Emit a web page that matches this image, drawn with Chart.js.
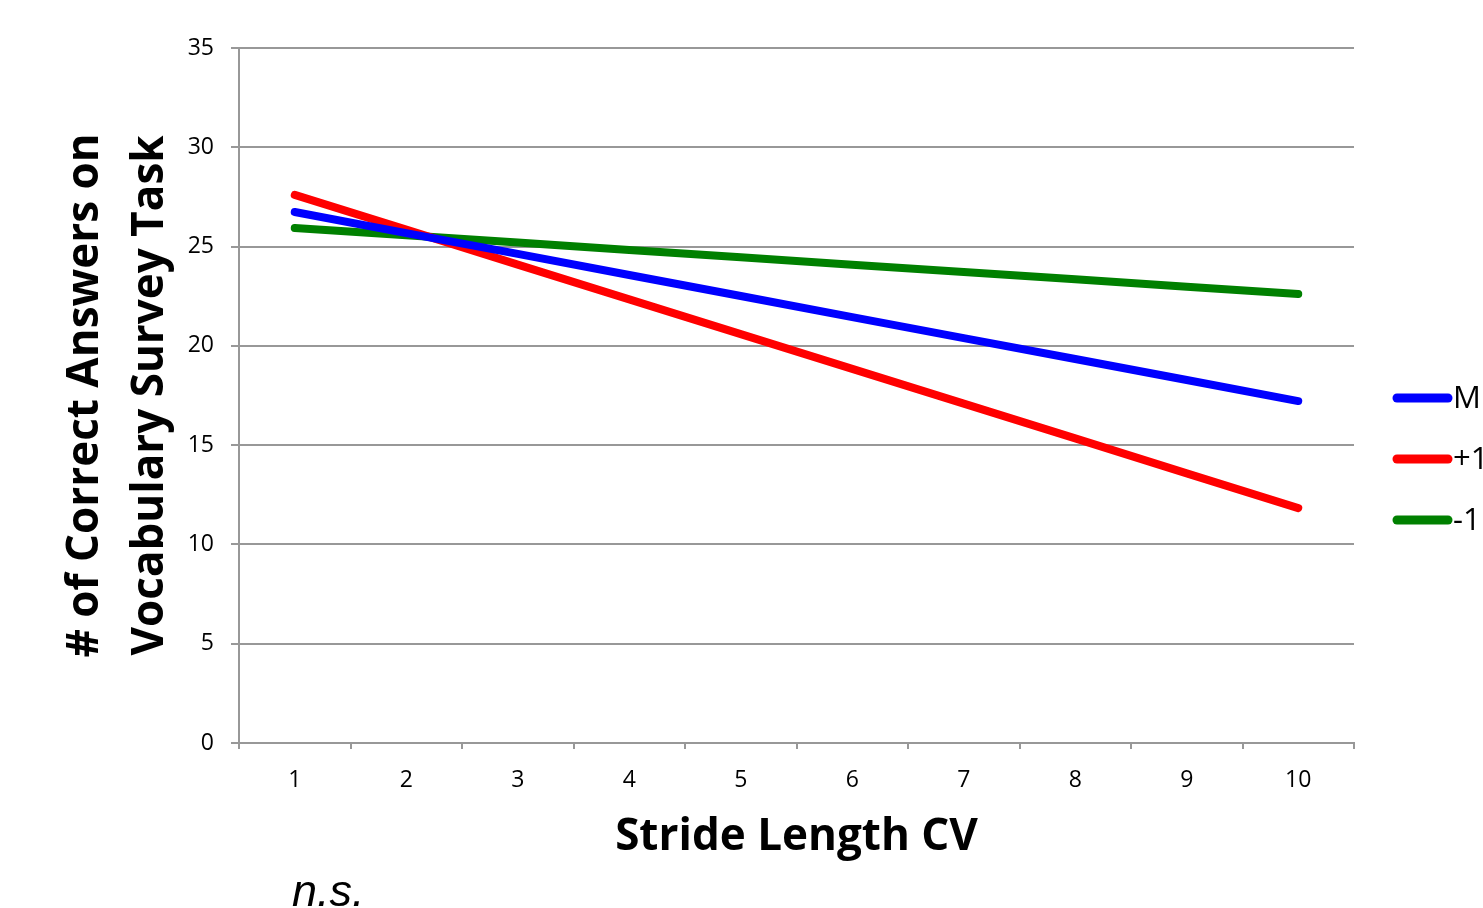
<!DOCTYPE html>
<html>
<head>
<meta charset="utf-8">
<script src="https://cdn.jsdelivr.net/npm/chart.js@4/dist/chart.umd.min.js"></script>
<style>
  html, body { margin: 0; padding: 0; background: #fff; overflow: hidden; }
</style>
</head>
<body>
<canvas id="strideChart" width="1483" height="908"></canvas>
<script>
// values
const strideLabels = ['1', '2', '3', '4', '5', '6', '7', '8', '9', '10'];
const seriesNames = ['M', '+1', '-1'];
const meanValues = [26.74, 25.68, 24.63, 23.57, 22.51, 21.45, 20.39, 19.34, 18.28, 17.22];
const plusOneValues = [27.6, 25.85, 24.09, 22.34, 20.59, 18.84, 17.09, 15.34, 13.58, 11.83];
const minusOneValues = [25.94, 25.57, 25.2, 24.83, 24.46, 24.09, 23.72, 23.35, 22.98, 22.61];
const seriesColors = ['#0000ff', '#ff0000', '#008000'];

const gridGray = '#989898';

// legend is cut by the window edge in the original, so draw it by hand
const sideLegend = {
    id: 'sideLegend',
    afterDraw(chart) {
        const ctx = chart.ctx;
        const x0 = chart.chartArea.right + 43;
        ctx.save();
        chart.data.datasets.forEach((ds, i) => {
            const y = 398 + i * 61;
            ctx.strokeStyle = ds.borderColor;
            ctx.lineWidth = 9;
            ctx.lineCap = 'round';
            ctx.beginPath();
            ctx.moveTo(x0, y);
            ctx.lineTo(x0 + 51, y);
            ctx.stroke();
            ctx.fillStyle = '#000';
            ctx.font = '31px "Open Sans"';
            ctx.textBaseline = 'middle';
            ctx.fillText(ds.label, x0 + 56, y + 1);
        });
        // significance note under the x title
        ctx.font = 'italic 45px "Liberation Sans"';
        ctx.textBaseline = 'alphabetic';
        ctx.fillText('n.s.', 292, 906);
        ctx.restore();
    }
};

const ctx = document.getElementById('strideChart').getContext('2d');

new Chart(ctx, {
    type: 'line',
    data: {
        labels: strideLabels,
        datasets: [
            {
                label: seriesNames[0],
                data: meanValues,
                borderColor: seriesColors[0],
                backgroundColor: seriesColors[0]
            },
            {
                label: seriesNames[1],
                data: plusOneValues,
                borderColor: seriesColors[1],
                backgroundColor: seriesColors[1]
            },
            {
                label: seriesNames[2],
                data: minusOneValues,
                borderColor: seriesColors[2],
                backgroundColor: seriesColors[2]
            }
        ]
    },
    options: {
        responsive: false,
        animation: false,
        layout: {
            padding: { top: 48, bottom: 44.6, left: 52.5, right: 129 }
        },
        elements: {
            line: { borderWidth: 8, borderCapStyle: 'round', tension: 0 },
            point: { radius: 0, hoverRadius: 0 }
        },
        plugins: {
            legend: { display: false },
            tooltip: { enabled: false }
        },
        scales: {
            x: {
                offset: true,
                afterFit: scale => { scale.height = 120.4; },
                grid: {
                    offset: true,
                    drawOnChartArea: false,
                    tickLength: 6,
                    color: gridGray,
                    lineWidth: 2
                },
                border: { color: gridGray, width: 2 },
                ticks: {
                    color: '#000',
                    padding: 18,
                    font: { family: 'Open Sans', size: 23 }
                },
                title: {
                    display: true,
                    text: 'Stride Length CV',
                    color: '#000',
                    padding: 0,
                    font: { family: 'Open Sans', size: 44, weight: 'bold', lineHeight: 1.2 }
                }
            },
            y: {
                min: 0,
                max: 35,
                afterFit: scale => { scale.width = 186.5; },
                grid: {
                    tickLength: 8,
                    color: gridGray,
                    lineWidth: 2
                },
                border: { color: gridGray, width: 2 },
                ticks: {
                    stepSize: 5,
                    color: '#000',
                    padding: 17,
                    font: { family: 'Open Sans', size: 23 }
                },
                title: {
                    display: true,
                    text: ['# of Correct Answers on', 'Vocabulary Survey Task'],
                    color: '#000',
                    padding: 0,
                    font: { family: 'Open Sans', size: 44, weight: 'bold', lineHeight: 65 / 44 }
                }
            }
        }
    },
    plugins: [sideLegend]
});
</script>
</body>
</html>
